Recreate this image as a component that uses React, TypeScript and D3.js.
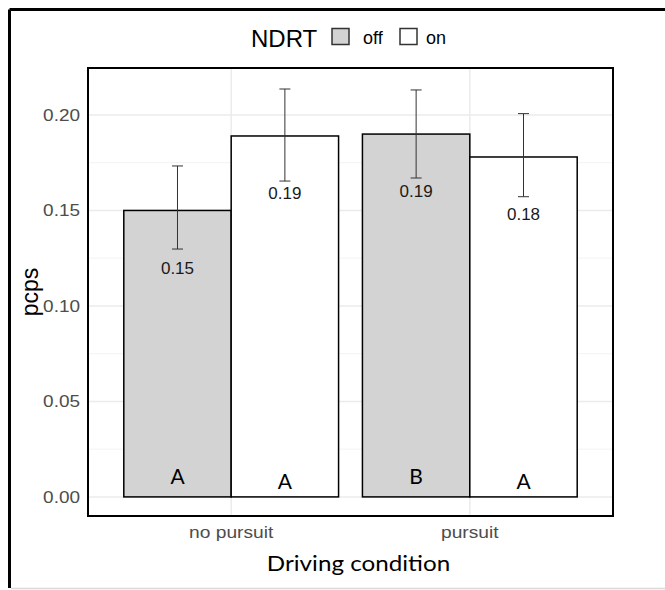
import React from "react";
import * as d3 from "d3";

const categories = ["no pursuit", "pursuit"];
const groups = ["off", "on"];
const offValues = [0.150, 0.190];
const onValues = [0.189, 0.178];
const offLower = [0.1298, 0.167];
const offUpper = [0.1733, 0.2131];
const onLower = [0.1654, 0.1572];
const onUpper = [0.2136, 0.2007];
const offLetters = ["A", "B"];
const onLetters = ["A", "A"];
const yTicks = [0, 0.05, 0.1, 0.15, 0.2];
const yMinor = [0.025, 0.075, 0.125, 0.175, 0.225];
const legendTitle = "NDRT";
const xTitle = "Driving condition";
const yTitle = "pcps";

const W = 665, H = 590;
const P = { left: 88, right: 613, top: 68, bottom: 516 };

export default function App() {
  const y = d3.scaleLinear().domain([-0.01, 0.2246]).range([P.bottom, P.top]);
  const x = d3.scaleBand<string>().domain(categories).range([P.left, P.right]).paddingInner(0.1).paddingOuter(0.15);
  const xg = d3.scaleBand<string>().domain(groups).range([0, x.bandwidth()]);
  const fmt = d3.format(".2f");
  const fills: Record<string, string> = { off: "#d3d3d3", on: "#ffffff" };
  const series = [
    { g: "off", vals: offValues, lo: offLower, hi: offUpper, letters: offLetters },
    { g: "on", vals: onValues, lo: onLower, hi: onUpper, letters: onLetters },
  ];
  const centers = categories.map((c) => (x(c) as number) + x.bandwidth() / 2);
  const sans = "Liberation Sans, Arial, sans-serif";
  const cal = "Lato, Carlito, sans-serif";

  return (
    <svg width={W} height={H} style={{ position: "absolute", left: 0, top: 0, background: "#fff" }}>
      {/* outer frame */}
      <line x1={9.5} y1={9.5} x2={W + 5} y2={9.5} stroke="#000" strokeWidth={3} />
      <line x1={9.5} y1={9.5} x2={9.5} y2={588} stroke="#000" strokeWidth={3} />
      <line x1={11} y1={588.5} x2={W} y2={588.5} stroke="#d9d9d9" strokeWidth={1.5} />

      <defs>
        <clipPath id="panelclip">
          <rect x={P.left} y={P.top} width={P.right - P.left} height={P.bottom - P.top} />
        </clipPath>
      </defs>

      {/* grid */}
      <g clipPath="url(#panelclip)">
        {yMinor.map((v) => (
          <line key={"mi" + v} x1={P.left} x2={P.right} y1={y(v)} y2={y(v)} stroke="#f3f3f3" strokeWidth={1} />
        ))}
        {yTicks.map((v) => (
          <line key={"ma" + v} x1={P.left} x2={P.right} y1={y(v)} y2={y(v)} stroke="#ebebeb" strokeWidth={1.5} />
        ))}
        {centers.map((cx, i) => (
          <line key={"vx" + i} x1={cx} x2={cx} y1={P.top} y2={P.bottom} stroke="#ebebeb" strokeWidth={1.5} />
        ))}
      </g>

      {/* bars */}
      {series.map((s) =>
        categories.map((c, i) => {
          const bx = (x(c) as number) + (xg(s.g) as number);
          return (
            <rect key={s.g + c} x={bx} y={y(s.vals[i])} width={xg.bandwidth()} height={y(0) - y(s.vals[i])}
              fill={fills[s.g]} stroke="#000" strokeWidth={1.5} />
          );
        })
      )}

      {/* error bars */}
      {series.map((s) =>
        categories.map((c, i) => {
          const cx = (x(c) as number) + (xg(s.g) as number) + xg.bandwidth() / 2;
          const hw = 5.5;
          return (
            <g key={"e" + s.g + c} stroke="#333" strokeWidth={1}>
              <line x1={cx} x2={cx} y1={y(s.hi[i])} y2={y(s.lo[i])} />
              <line x1={cx - hw} x2={cx + hw} y1={y(s.hi[i])} y2={y(s.hi[i])} />
              <line x1={cx - hw} x2={cx + hw} y1={y(s.lo[i])} y2={y(s.lo[i])} />
            </g>
          );
        })
      )}

      {/* value labels */}
      {series.map((s) =>
        categories.map((c, i) => {
          const cx = (x(c) as number) + (xg(s.g) as number) + xg.bandwidth() / 2;
          return (
            <text key={"v" + s.g + c} x={cx} y={y(s.vals[i] - 0.03)} dy="0.35em" textAnchor="middle"
              fontFamily={sans} fontSize={17} fill="#1a1a1a">{fmt(s.vals[i])}</text>
          );
        })
      )}

      {/* letters */}
      {series.map((s, si) =>
        categories.map((c, i) => {
          const cx = (x(c) as number) + (xg(s.g) as number) + xg.bandwidth() / 2;
          return (
            <text key={"l" + s.g + c} x={cx} y={y(0) - (si === 0 ? 20 : 15)} dy="0.35em" textAnchor="middle"
              fontFamily={cal} fontSize={21} fill="#000">{s.letters[i]}</text>
          );
        })
      )}

      {/* panel border */}
      <rect x={P.left} y={P.top} width={P.right - P.left} height={P.bottom - P.top} fill="none" stroke="#000" strokeWidth={2} />

      {/* y ticks */}
      {yTicks.map((v) => (
        <text key={"yt" + v} transform={`translate(80,${y(v)}) scale(1.15,1)`} dy="0.35em" textAnchor="end"
          fontFamily={sans} fontSize={16.5} fill="#4d4d4d">
          {fmt(v)}
        </text>
      ))}
      {/* x ticks */}
      {categories.map((c, i) => (
        <text key={"xt" + c} transform={`translate(${centers[i]},532) scale(1.2,1)`} dy="0.35em" textAnchor="middle"
          fontFamily={sans} fontSize={16} fill="#4d4d4d">
          {c}
        </text>
      ))}

      {/* axis titles */}
      <text transform={`translate(${(P.left + P.right) / 2 + 8},563) scale(1.1,1)`} dy="0.35em" textAnchor="middle"
        fontFamily={cal} fontSize={22} fill="#000">{xTitle}</text>
      <text transform={`translate(30,${(P.top + P.bottom) / 2}) rotate(-90)`} dy="0.35em" textAnchor="middle"
        fontFamily={sans} fontSize={23} fill="#000">{yTitle}</text>

      {/* legend */}
      <g>
        <text x={251} y={39} dy="0.35em" fontFamily={sans} fontSize={24} fill="#000">{legendTitle}</text>
        <rect x={332} y={28.5} width={17} height={16} fill={fills.off} stroke="#333" strokeWidth={1.5} />
        <text x={363} y={38} dy="0.35em" fontFamily={sans} fontSize={18} fill="#000">{groups[0]}</text>
        <rect x={400} y={28.5} width={17} height={16} fill={fills.on} stroke="#333" strokeWidth={1.5} />
        <text x={426} y={38} dy="0.35em" fontFamily={sans} fontSize={18} fill="#000">{groups[1]}</text>
      </g>
    </svg>
  );
}
